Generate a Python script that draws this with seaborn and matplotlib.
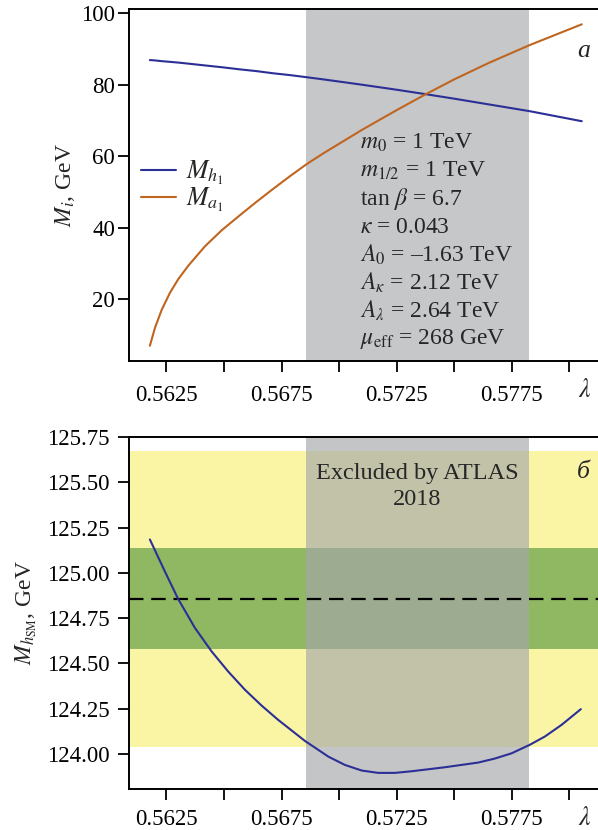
import matplotlib
matplotlib.use("Agg")
import matplotlib.pyplot as plt
import seaborn as sns

sns.set_theme(style="ticks")
plt.rcParams["font.family"] = ["Liberation Serif", "DejaVu Serif"]
plt.rcParams["mathtext.fontset"] = "stix"

# --- данные ---
lam_top = [0.56178, 0.56200, 0.56229, 0.56265, 0.56301, 0.56345, 0.56417, 0.56490,
           0.56569, 0.56642, 0.56714, 0.56786, 0.56859, 0.56931, 0.57100, 0.57250,
           0.57372, 0.57500, 0.57650, 0.57828, 0.58054]
m_h1 = [86.9, 86.8, 86.6, 86.4, 86.2, 85.9, 85.4, 84.9, 84.3, 83.8, 83.2, 82.7,
        82.1, 81.5, 80.0, 78.6, 77.4, 76.1, 74.5, 72.6, 69.8]
m_a1 = [7.0, 12.0, 17.0, 21.8, 25.6, 29.4, 34.8, 39.3, 43.5, 47.3, 50.9, 54.4,
        57.8, 60.8, 67.4, 72.9, 77.2, 81.5, 86.1, 91.1, 96.9]

lam_bot = [0.56178, 0.56244, 0.56301, 0.56374, 0.56446, 0.56518, 0.56591, 0.56663,
           0.56735, 0.56808, 0.56851, 0.56953, 0.57025, 0.57098, 0.57170, 0.57242,
           0.57315, 0.57459, 0.57604, 0.57676, 0.57749, 0.57828, 0.57894, 0.57966,
           0.58050]
m_hsm = [125.184, 125.005, 124.855, 124.695, 124.566, 124.455, 124.354, 124.267,
         124.188, 124.115, 124.072, 123.985, 123.939, 123.908, 123.895, 123.895,
         123.904, 123.926, 123.952, 123.974, 124.003, 124.050, 124.096, 124.160,
         124.247]

excluded = (0.56858, 0.57826)      # ATLAS 2018
m_exp = 124.857
band_1 = 0.278                    # зелёная полоса
band_2 = 0.818                    # жёлтая полоса

params = [r"$m_0$ = 1 TeV", r"$m_{1/2}$ = 1 TeV", r"tan $\beta$ = 6.7",
          r"$\kappa$ = 0.043", r"$A_0$ = –1.63 TeV", r"$A_\kappa$ = 2.12 TeV",
          r"$A_\lambda$ = 2.64 TeV", r"$\mu_{\rm eff}$ = 268 GeV"]

xticks = [0.5625, 0.5650, 0.5675, 0.5700, 0.5725, 0.5750, 0.5775, 0.5800]
xticklabels = ["0.5625", "", "0.5675", "", "0.5725", "", "0.5775", ""]
xlim = (0.560872, 0.581757)

BLUE = "#2c2f96"
ORANGE = "#c0651f"
GREY = "#a5a7aa"
FS = 16.5

fig = plt.figure(figsize=(5.98, 8.30), dpi=100)
ax1 = fig.add_axes([0.2157, 0.5651, 0.804, 0.4237])
ax2 = fig.add_axes([0.2157, 0.0494, 0.804, 0.4245])


def style_axes(ax, xpad, ypad):
    ax.set_xlim(*xlim)
    ax.set_xticks(xticks)
    ax.set_xticklabels(xticklabels)
    ax.spines["right"].set_visible(False)
    for s in ("left", "bottom", "top"):
        ax.spines[s].set_linewidth(1.4)
        ax.spines[s].set_color("black")
    ax.tick_params(direction="out", length=8, width=1.3, labelsize=FS, colors="black")
    ax.tick_params(axis="x", pad=xpad)
    ax.tick_params(axis="y", pad=ypad)
    ax.text(0.948, -0.083, r"$\lambda$", transform=ax.transAxes, fontsize=FS + 2,
            ha="center", va="center")


# --- панель a ---
ax1.axvspan(*excluded, color="#c6c7c9", lw=0, zorder=0)
sns.lineplot(x=lam_top, y=m_h1, ax=ax1, color=BLUE, lw=1.5, label=r"$M_{h_1}$")
sns.lineplot(x=lam_top, y=m_a1, ax=ax1, color=ORANGE, lw=1.5, label=r"$M_{a_1}$")
ax1.set_ylim(2.74, 101.1)
ax1.set_yticks([20, 40, 60, 80, 100])
ax1.set_ylabel(r"$M_i$, GeV", fontsize=FS + 0.5, labelpad=3)
style_axes(ax1, xpad=9, ypad=2)
ax1.legend(loc="center left", bbox_to_anchor=(0.025, 0.497), frameon=False,
           fontsize=FS + 2, handlelength=1.35, handletextpad=0.4, labelspacing=-0.05,
           borderpad=0, borderaxespad=0)
ax1.text(0.946, 0.881, "a", transform=ax1.transAxes, fontsize=FS + 2,
         style="italic", ha="center", va="center")
for i, line in enumerate(params):
    ax1.text(0.4805, 0.619 - i * 0.0795, line, transform=ax1.transAxes,
             fontsize=FS + 0.5, ha="left", va="center")

# --- панель б ---
ax2.axhspan(m_exp - band_2, m_exp + band_2, color="#faf5a5", lw=0, zorder=0)
ax2.axhspan(m_exp - band_1, m_exp + band_1, color="#90b862", lw=0, zorder=0.5)
ax2.axvspan(*excluded, color=GREY, alpha=0.65, lw=0, zorder=1)
ax2.axhline(m_exp, color="black", lw=1.6, ls=(0, (6.5, 3.5)), zorder=2)
sns.lineplot(x=lam_bot, y=m_hsm, ax=ax2, color=BLUE, lw=1.5, zorder=3)
ax2.set_ylim(123.806, 125.752)
ax2.set_yticks([124.00, 124.25, 124.50, 124.75, 125.00, 125.25, 125.50, 125.75])
ax2.set_yticklabels([f"{v:.2f}" for v in ax2.get_yticks()])
ax2.set_ylabel(r"$M_{h_{\rm SM}}$, GeV", fontsize=FS + 0.5, labelpad=6)
style_axes(ax2, xpad=6.5, ypad=6)
ax2.text(0.599, 0.859, "Excluded by ATLAS\n2018", transform=ax2.transAxes,
         fontsize=FS + 1, ha="center", va="center", linespacing=1.3)
ax2.text(0.946, 0.90, "б", transform=ax2.transAxes, fontsize=FS + 2,
         style="italic", ha="center", va="center")

fig.savefig("out.png", dpi=100)
